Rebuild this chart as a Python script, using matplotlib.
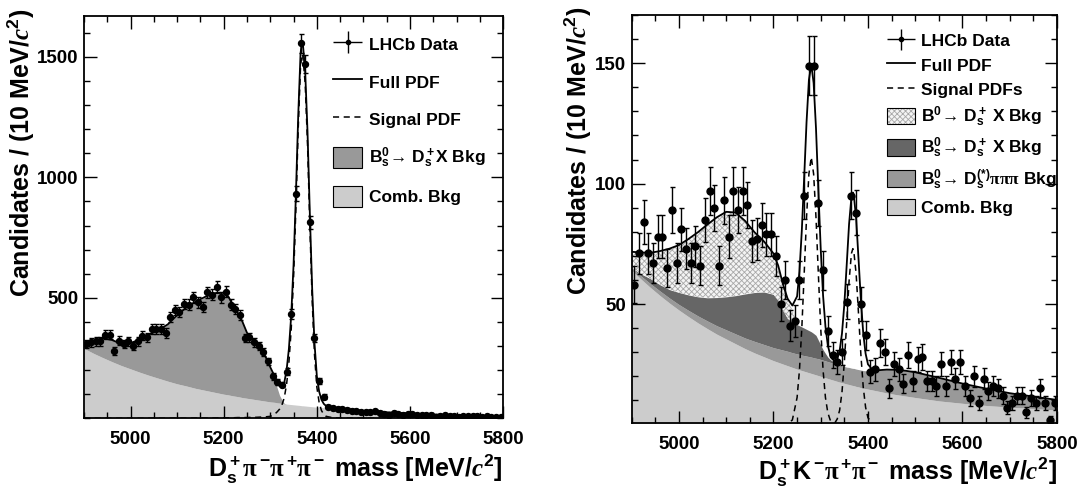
import numpy as np
import matplotlib
matplotlib.use("Agg")
import matplotlib.pyplot as plt
import matplotlib.patches as mpatches
from matplotlib.ticker import FixedLocator, MultipleLocator
from matplotlib.legend_handler import HandlerErrorbar, HandlerTuple
from matplotlib.container import ErrorbarContainer

plt.rcParams["font.family"] = ["Liberation Sans", "DejaVu Sans"]
plt.rcParams["font.weight"] = "bold"
plt.rcParams["axes.labelweight"] = "bold"
plt.rcParams["mathtext.fontset"] = "custom"
plt.rcParams["mathtext.rm"] = "Liberation Sans:bold"
plt.rcParams["mathtext.bf"] = "Liberation Sans:bold"
plt.rcParams["mathtext.it"] = "Liberation Serif:bold:italic"
plt.rcParams["mathtext.sf"] = "Liberation Serif"
plt.rcParams["mathtext.default"] = "rm"
plt.rcParams["hatch.linewidth"] = 0.6

# ---- binned data (10 MeV bins, 4900-5800) ----
mass_bins = np.arange(4905, 5800, 10)

counts_dspipipi = [
    308, 315, 319, 319, 347, 347, 281, 322, 308, 319,
    299, 319, 343, 336, 371, 371, 371, 354, 419, 451,
    440, 474, 472, 502, 481, 463, 523, 513, 546, 502,
    526, 472, 454, 430, 333, 336, 315, 301, 274, 236,
    174, 152, 140, 194, 433, 933, 1556, 1470, 813, 333,
    156, 90, 48, 42, 39, 38, 35, 32, 30, 27,
    28, 27, 29, 24, 18, 15, 24, 19, 13, 18,
    16, 14, 15, 13, 14, 7, 11, 14, 9, 10,
    6, 9, 8, 8, 9, 7, 8, 7, 6, 5,
]

counts_dskpipi = [
    58, 71, 84, 71, 67, 78, 78, 65, 89, 67,
    81, 73, 67, 74, 66, 85, 97, 90, 66, 93,
    78, 97, 89, 97, 91, 76, 77, 83, 79, 79,
    70, 50, 60, 41, 43, 60, 95, 149, 149, 92,
    64, 39, 29, 26, 30, 51, 95, 88, 50, 37,
    22, 23, 34, 30, 15, 25, 23, 17, 29, 18,
    27, 28, 18, 18, 16, 25, 16, 26, 19, 26,
    16, 11, 20, 9, 19, 14, 16, 15, 12, 7,
    9, 12, 12, 5, 11, 9, 15, 9, 2, 9,
]

# ---- fit components, left panel ----
mass_l = [4900, 4920, 4940, 4960, 4980, 5000, 5020, 5040, 5060, 5080,
          5100, 5120, 5140, 5160, 5180, 5200, 5210, 5220, 5230, 5240,
          5250, 5260, 5270, 5280, 5290, 5300, 5305, 5310, 5315, 5320,
          5325, 5330, 5335, 5340, 5345, 5350, 5355, 5360, 5365, 5368,
          5370, 5375, 5380, 5385, 5390, 5395, 5400, 5405, 5410, 5415,
          5420, 5430, 5440, 5460, 5480, 5500, 5550, 5600, 5650, 5700,
          5750, 5800]
comb_l = [290, 270, 252, 235, 219, 205, 191, 178, 166, 154,
          143, 134, 124, 116, 108, 100, 97, 93, 90, 86,
          83, 80, 77, 74, 71, 68, 67, 66, 64, 63,
          62, 60, 59, 58, 57, 56, 55, 54, 53, 52,
          52, 51, 50, 49, 48, 47, 46, 46, 45, 44,
          43, 42, 40, 37, 34, 31, 25, 20, 16, 13,
          10, 8]
bs_dsx_l = [10, 48, 81, 90, 90, 107, 137, 170, 200, 236,
            285, 326, 360, 387, 410, 419, 406, 375, 345, 313,
            269, 246, 231, 206, 178, 136, 113, 89, 61, 32,
            15, 2, 0, 0, 0, 0, 0, 0, 0, 0,
            0, 0, 0, 0, 0, 0, 0, 0, 0, 0,
            0, 0, 0, 0, 0, 0, 0, 0, 0, 0,
            0, 0]
signal_l = [0, 0, 0, 0, 0, 0, 0, 0, 0, 0,
            0, 0, 1, 1, 1, 2, 2, 2, 3, 3,
            3, 4, 4, 5, 6, 8, 12, 18, 27, 38,
            55, 85, 140, 230, 370, 580, 870, 1200, 1460, 1513,
            1503, 1390, 1140, 800, 490, 265, 130, 65, 32, 16,
            8, 4, 2, 1, 1, 0, 0, 0, 0, 0,
            0, 0]

# ---- fit components, right panel ----
mass_r = [4900, 4920, 4940, 4960, 4980, 5000, 5020, 5040, 5060, 5080,
          5100, 5120, 5140, 5160, 5180, 5200, 5210, 5220, 5230, 5240,
          5250, 5255, 5260, 5265, 5270, 5275, 5280, 5285, 5290, 5295,
          5300, 5305, 5310, 5315, 5320, 5325, 5330, 5335, 5340, 5345,
          5350, 5355, 5360, 5365, 5368, 5370, 5375, 5380, 5385, 5390,
          5395, 5400, 5410, 5420, 5440, 5460, 5480, 5500, 5550, 5600,
          5650, 5700, 5750, 5800]
comb_r = [64, 60.3, 56.8, 53.5, 50.4, 47.5, 44.8, 42.2, 39.8, 37.5,
          35.5, 33.5, 31.5, 29.7, 28.1, 26.5, 25.8, 25.1, 24.4, 23.7,
          23.0, 22.7, 22.4, 22.1, 21.8, 21.5, 21.2, 20.9, 20.6, 20.3,
          20.0, 19.7, 19.4, 19.1, 18.8, 18.5, 18.2, 17.9, 17.6, 17.4,
          17.1, 16.8, 16.6, 16.3, 16.2, 16.1, 15.8, 15.6, 15.3, 15.1,
          14.9, 14.7, 14.3, 13.9, 13.1, 12.4, 11.8, 11.2, 9.8, 8.8,
          7.9, 7.2, 6.6, 6.0]
bs_dspipipi_r = [1, 1.3, 1.6, 1.9, 2.1, 2.3, 2.6, 2.9, 3.2, 3.5,
                 3.8, 4.1, 4.4, 4.8, 5.1, 5.4, 5.6, 5.8, 6.0, 6.1,
                 6.3, 6.4, 6.4, 6.5, 6.6, 6.7, 6.8, 6.8, 6.9, 7.0,
                 7.0, 7.0, 7.0, 7.0, 7.0, 7.0, 7.0, 7.0, 7.0, 7.0,
                 7.0, 7.0, 7.1, 7.1, 7.1, 7.2, 7.2, 7.2, 7.3, 7.3,
                 7.4, 7.5, 8.0, 8.6, 9.7, 10.3, 10.5, 10.5, 9.6, 8.2,
                 7.0, 5.8, 5.0, 4.2]
bs_dsx_r = [0, 0.9, 2.1, 2.6, 3.5, 5.0, 6.4, 7.9, 9.6, 11.7,
            13.7, 15.9, 18.3, 20.3, 21.8, 22.1, 20.1, 16.6, 13.6, 12.7,
            12.2, 11.9, 11.7, 11.4, 11.1, 10.8, 10.5, 10.1, 9.5, 7.7,
            6.0, 4.3, 3.1, 1.9, 1.2, 0.8, 0.4, 0, 0, 0,
            0, 0, 0, 0, 0, 0, 0, 0, 0, 0,
            0, 0, 0, 0, 0, 0, 0, 0, 0, 0,
            0, 0, 0, 0]
b0_dsx_r = [6.7, 8.9, 10.8, 14, 17, 19.7, 23.2, 26.8, 30.4, 33.3,
            35.3, 34.5, 30.3, 25, 21, 17, 14.5, 10.8, 8, 5,
            0.5, 0, 0, 0, 0, 0, 0, 0, 0, 0,
            0, 0, 0, 0, 0, 0, 0, 0, 0, 0,
            0, 0, 0, 0, 0, 0, 0, 0, 0, 0,
            0, 0, 0, 0, 0, 0, 0, 0, 0, 0,
            0, 0, 0, 0]
sig_b0_r = [0, 0, 0, 0, 0, 0, 0, 0, 0, 0,
            0, 0, 0, 0, 0, 0, 0, 0, 0.2, 1.9,
            11.2, 22.5, 40, 62.5, 86, 104, 111, 104, 86, 62.5,
            40, 22.5, 11.2, 4.9, 1.9, 0.6, 0.2, 0, 0, 0,
            0, 0, 0, 0, 0, 0, 0, 0, 0, 0,
            0, 0, 0, 0, 0, 0, 0, 0, 0, 0,
            0, 0, 0, 0]
sig_bs_r = [0, 0, 0, 0, 0, 0, 0, 0, 0, 0,
            0, 0, 0, 0, 0, 0, 0, 0, 0, 0,
            0, 0, 0, 0, 0, 0, 0, 0, 0, 0,
            0, 0, 0, 0, 0, 0.2, 0.7, 2.3, 5.9, 13.4,
            25.9, 42.5, 59.5, 71, 73, 72, 62.4, 46, 29, 15.5,
            7.1, 2.8, 0.3, 0, 0, 0, 0, 0, 0, 0,
            0, 0, 0, 0]

xlabel_left = r"$\mathrm{D_s^+}\mathsf{\pi}^-\!\mathsf{\pi}^+\!\mathsf{\pi}^-$ mass [MeV/$\mathit{c}^2$]"
xlabel_right = r"$\mathrm{D_s^+K^-}\!\mathsf{\pi}^+\!\mathsf{\pi}^-$ mass [MeV/$\mathit{c}^2$]"
ylabel = r"Candidates / (10 MeV/$\mathit{c}^2$)"

LIGHT = "#cccccc"
MID = "#999999"
DARK = "#666666"


def style_axes(ax, yticks, yminor):
    ax.set_xlim(4900, 5800)
    ax.xaxis.set_major_locator(FixedLocator([5000, 5200, 5400, 5600, 5800]))
    ax.xaxis.set_minor_locator(MultipleLocator(50))
    ax.yaxis.set_major_locator(FixedLocator(yticks))
    ax.yaxis.set_minor_locator(MultipleLocator(yminor))
    ax.tick_params(which="both", direction="in", top=True, right=True,
                   width=1.0, labelsize=13.5)
    ax.tick_params(which="major", length=9)
    ax.tick_params(which="minor", length=4.5)
    ax.tick_params(axis="x", pad=9)
    ax.tick_params(axis="y", pad=4)
    for lbl in ax.get_xticklabels() + ax.get_yticklabels():
        lbl.set_fontweight("bold")
    for s in ax.spines.values():
        s.set_linewidth(1.3)


fig = plt.figure(figsize=(10.8, 4.87), dpi=100)

# ================= left: Ds pi pi pi =================
axL = fig.add_axes([0.0778, 0.1411, 0.388, 0.826])
comb_l = np.array(comb_l, float)
bs_top_l = comb_l + np.array(bs_dsx_l, float)
full_l = bs_top_l + np.array(signal_l, float)
axL.fill_between(mass_l, 0, comb_l, color=LIGHT, lw=0, zorder=1)
axL.fill_between(mass_l, comb_l, bs_top_l, color=MID, lw=0, zorder=1)
sigL, = axL.plot(mass_l, signal_l, color="k", lw=1.1, ls=(0, (4, 3)), zorder=3)
fullL, = axL.plot(mass_l, full_l, color="k", lw=1.3, zorder=3)
axL.errorbar(mass_bins, counts_dspipipi, yerr=np.sqrt(counts_dspipipi), fmt="o",
             color="k", ms=4.3, lw=1, capsize=1.8, zorder=4)
axL.set_ylim(0, 1670)
style_axes(axL, [500, 1000, 1500], 100)

axL.set_xlabel(xlabel_left, fontsize=18, ha="right")
axL.xaxis.set_label_coords(1.0, -0.085)
axL.set_ylabel(ylabel, fontsize=18, ha="right")
axL.yaxis.set_label_coords(-0.112, 1.02)

data_proxy = axL.errorbar([np.nan], [np.nan], xerr=[1], yerr=[1], fmt="o", color="k",
                          ms=3, lw=1)
legL = axL.legend(
    [data_proxy, fullL, sigL,
     mpatches.Patch(facecolor=MID, edgecolor="k", lw=0.8),
     mpatches.Patch(facecolor=LIGHT, edgecolor="k", lw=0.8)],
    ["LHCb Data", "Full PDF", "Signal PDF",
     r"$\mathrm{B_s^0\!\rightarrow\!\ D_s^+X\ Bkg}$", "Comb. Bkg"],
    loc="upper left", bbox_to_anchor=(0.594, 0.955), frameon=False, fontsize=12.5,
    handlelength=1.7, handleheight=1.5, handletextpad=0.35, labelspacing=0.92,
    borderpad=0, borderaxespad=0,
    handler_map={ErrorbarContainer: HandlerErrorbar(xerr_size=0.85, yerr_size=0.63)})

# ================= right: Ds K pi pi =================
axR = fig.add_axes([0.5849, 0.1308, 0.3938, 0.8384])
t_comb = np.array(comb_r, float)
t_mid = t_comb + np.array(bs_dspipipi_r, float)
t_dark = t_mid + np.array(bs_dsx_r, float)
t_hatch = t_dark + np.array(b0_dsx_r, float)
full_r = t_hatch + np.array(sig_b0_r, float) + np.array(sig_bs_r, float)

axR.fill_between(mass_r, 0, t_comb, color=LIGHT, lw=0, zorder=1)
axR.fill_between(mass_r, t_comb, t_mid, color=MID, lw=0, zorder=1)
axR.fill_between(mass_r, t_mid, t_dark, color=DARK, lw=0, zorder=1)
axR.fill_between(mass_r, t_dark, t_hatch, facecolor="#f4f4f4", edgecolor="#a8a8a8",
                 hatch="xxxxxx", lw=0, zorder=1)
sigR, = axR.plot(mass_r, sig_b0_r, color="k", lw=1.1, ls=(0, (4, 3)), zorder=3)
axR.plot(mass_r, sig_bs_r, color="k", lw=1.1, ls=(0, (4, 3)), zorder=3)
fullR, = axR.plot(mass_r, full_r, color="k", lw=1.3, zorder=3)
axR.errorbar(mass_bins, counts_dskpipi, yerr=np.sqrt(counts_dskpipi), fmt="o",
             color="k", ms=5, lw=1, capsize=1.8, zorder=4)
axR.set_ylim(0.5, 170)
style_axes(axR, [50, 100, 150], 10)

axR.set_xlabel(xlabel_right, fontsize=18, ha="right")
axR.xaxis.set_label_coords(1.0, -0.078)
axR.set_ylabel(ylabel, fontsize=18, ha="right")
axR.yaxis.set_label_coords(-0.088, 1.02)

data_proxy_r = axR.errorbar([np.nan], [np.nan], xerr=[1], yerr=[1], fmt="o", color="k",
                            ms=3, lw=1)
hatch_handle = (mpatches.Patch(facecolor="#f4f4f4", edgecolor="#a8a8a8", hatch="xxxxxx", lw=0),
                mpatches.Patch(fill=False, edgecolor="k", lw=0.8))
legR = axR.legend(
    [data_proxy_r, fullR, sigR, hatch_handle,
     mpatches.Patch(facecolor=DARK, edgecolor="k", lw=0.8),
     mpatches.Patch(facecolor=MID, edgecolor="k", lw=0.8),
     mpatches.Patch(facecolor=LIGHT, edgecolor="k", lw=0.8)],
    ["LHCb Data", "Full PDF", "Signal PDFs",
     r"$\mathrm{B^0\!\rightarrow\!\ D_s^+\ X\ Bkg}$",
     r"$\mathrm{B_s^0\!\rightarrow\!\ D_s^+\ X\ Bkg}$",
     r"$\mathrm{B_s^0\!\rightarrow\!\ D_s^{(*)}}\mathsf{\pi\pi\pi}$ Bkg",
     "Comb. Bkg"],
    loc="upper left", bbox_to_anchor=(0.60, 0.958), frameon=False, fontsize=12.5,
    handlelength=1.6, handleheight=1.1, handletextpad=0.35, labelspacing=0.4,
    borderpad=0, borderaxespad=0,
    handler_map={ErrorbarContainer: HandlerErrorbar(xerr_size=0.8, yerr_size=0.6),
                 tuple: HandlerTuple(ndivide=1, pad=0)})

fig.savefig("out.png", dpi=100)
